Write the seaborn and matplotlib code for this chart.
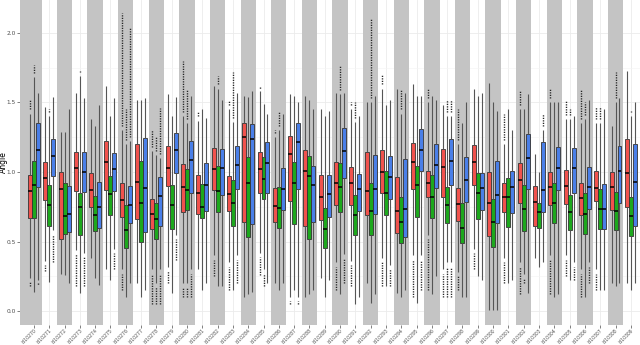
import numpy as np
import pandas as pd
import seaborn as sns
import matplotlib
matplotlib.use("Agg")
import matplotlib.pyplot as plt

nan = np.nan

Speakers = ['id%d' % n for n in range(10270, 10310)]
Groups = ['g1', 'g2', 'g3']
Colors = ['#F0524D', '#1DA81D', '#4A7FE8']

# red group
RedQ1  = [0.67, 0.80, 0.52, 0.86, 0.75, 0.87, 0.68, 0.66, 0.59, 0.90, 0.715, 0.70, 0.87, 0.72, 0.64, 0.85, 0.64, 0.79, 0.61, 0.655,
          0.76, 0.76, 0.69, 0.85, 0.56, 0.88, 0.82, 0.82, 0.65, 0.91, 0.54, 0.71, 0.78, 0.61, 0.76, 0.77, 0.69, 0.79, 0.73, 0.75]
RedMed = [0.86, 0.955, 0.876, 1.03, 0.87, 1.07, 0.80, 0.93, 0.70, 1.03, 0.895, 0.847, 1.02, 0.842, 1.25, 1.02, 0.758, 1.133, 1.008, 0.818,
          0.924, 0.92, 0.866, 1.003, 0.718, 1.07, 0.92, 1.034, 0.77, 1.07, 0.775, 0.823, 0.943, 0.787, 0.89, 0.90, 0.811, 0.883, 0.89, 0.99]
RedQ3  = [0.98, 1.075, 1.0, 1.147, 0.99, 1.22, 0.92, 1.2, 0.804, 1.188, 1.058, 0.98, 1.17, 0.974, 1.356, 1.145, 0.883, 1.26, 1.157, 0.98,
          1.07, 1.034, 1.147, 1.16, 0.962, 1.207, 1.01, 1.164, 0.883, 1.197, 1.003, 0.92, 1.068, 0.9, 1.003, 1.015, 0.924, 1.006, 1.003, 1.236]
RedLo  = [0.24, 0.36, 0.27, 0.44, 0.38, 0.30, 0.30, 0.20, 0.30, 0.32, 0.20, 0.30, 0.40, 0.35, 0.10, 0.42, 0.20, 0.10, 0.10, 0.24,
          0.35, 0.36, 0.20, 0.38, 0.13, 0.40, 0.55, 0.30, 0.28, 0.45, 0.01, 0.38, 0.35, 0.38, 0.40, 0.40, 0.30, 0.30, 0.20, 0.20]
RedHi  = [1.42, 1.47, 1.29, 1.57, 1.38, 1.62, 1.30, 1.52, 1.15, 1.56, 1.40, 1.37, 1.62, 1.45, 1.55, 1.58, 1.25, 1.56, 1.55, 1.45,
          1.57, 1.45, 1.50, 1.60, 1.60, 1.63, 1.50, 1.48, 1.20, 1.60, 1.64, 1.20, 1.45, 1.13, 1.50, 1.38, 1.35, 1.35, 1.33, 1.73]
RedOutHi = [1.52, nan, nan, nan, 1.41, nan, 2.14, nan, 1.30, nan, 1.80, 1.44, nan, 1.52, nan, 1.60, 1.30, nan, nan, 1.48,
            nan, 1.50, nan, 1.70, nan, nan, 1.60, nan, 1.45, nan, nan, 1.42, 1.58, nan, 1.60, 1.52, 1.60, 1.47, nan, nan]
RedOutLo = [0.18, 0.29, nan, 0.18, nan, nan, 0.15, nan, 0.05, 0.20, 0.10, 0.27, 0.25, 0.15, nan, 0.26, nan, 0.05, nan, nan,
            0.15, 0.18, nan, 0.18, nan, 0.10, 0.15, 0.10, 0.15, 0.30, nan, 0.20, 0.12, nan, 0.12, 0.25, 0.10, 0.15, nan, nan]

# green group
GreenQ1  = [0.67, 0.61, 0.552, 0.547, 0.574, 0.69, 0.451, 0.50, 0.516, 0.588, 0.727, 0.672, 0.71, 0.614, 0.535, 0.804, 0.60, 0.629, 0.52, 0.456,
            0.715, 0.547, 0.547, 0.69, 0.49, 0.68, 0.667, 0.636, 0.49, 0.66, 0.458, 0.607, 0.578, 0.595, 0.636, 0.583, 0.554, 0.588, 0.583, 0.54]
GreenMed = [0.91, 0.763, 0.686, 0.75, 0.694, 0.84, 0.583, 0.775, 0.66, 0.763, 0.87, 0.75, 0.866, 0.78, 0.92, 0.948, 0.74, 0.92, 0.972, 0.593,
            0.89, 0.69, 0.722, 0.852, 0.643, 0.907, 0.823, 0.763, 0.595, 0.852, 0.638, 0.823, 0.732, 0.715, 0.78, 0.715, 0.696, 0.732, 0.722, 0.684]
GreenQ3  = [1.08, 0.906, 0.924, 0.852, 0.825, 0.97, 0.763, 1.08, 0.775, 0.907, 1.02, 0.912, 1.04, 0.94, 1.106, 1.106, 0.89, 1.073, 1.116, 0.74,
            1.068, 0.833, 0.924, 1.01, 0.818, 1.044, 0.98, 0.895, 0.78, 0.996, 0.804, 0.955, 0.905, 0.78, 0.924, 0.833, 0.847, 0.876, 0.857, 0.818]
GreenLo  = [0.14, 0.21, 0.26, 0.13, 0.24, 0.22, 0.10, 0.10, 0.20, 0.13, 0.20, 0.15, 0.18, 0.15, 0.12, 0.30, 0.15, 0.15, 0.12, 0.10,
            0.12, 0.05, 0.06, 0.18, 0.10, 0.06, 0.12, 0.35, 0.10, 0.25, 0.01, 0.20, 0.27, 0.32, 0.10, 0.22, 0.10, 0.15, 0.18, 0.15]
GreenHi  = [1.68, 1.40, 1.29, 1.69, 1.33, 1.40, 1.20, 1.52, 1.12, 1.40, 1.35, 1.45, 1.60, 1.36, 1.54, 1.49, 1.30, 1.55, 1.52, 1.40,
            1.56, 1.36, 1.50, 1.48, 1.42, 1.55, 1.55, 1.40, 1.35, 1.55, 1.50, 1.45, 1.45, 1.00, 1.50, 1.38, 1.38, 1.35, 1.50, 1.40]
GreenOutHi = [1.77, 1.45, nan, 1.73, nan, nan, 1.45, nan, 1.26, nan, 1.60, nan, 1.69, 1.72, nan, nan, 1.43, nan, nan, nan,
              1.76, 1.50, 2.10, nan, 1.60, nan, nan, 1.52, nan, nan, nan, nan, nan, nan, nan, 1.45, 1.50, 1.47, 1.72, 1.44]
GreenOutLo = [nan, nan, nan, nan, nan, nan, nan, nan, 0.05, nan, 0.10, nan, nan, nan, nan, 0.18, nan, nan, nan, nan,
              nan, nan, nan, nan, nan, nan, nan, 0.10, nan, nan, nan, nan, 0.20, nan, nan, nan, nan, nan, nan, nan]

# blue group
BlueQ1  = [0.895, 0.97, 0.566, 0.859, 0.598, 0.866, 0.63, 0.571, 0.612, 0.99, 0.852, 0.72, 0.835, 0.876, 0.624, 0.852, 0.727, 0.876, 0.638, 0.68,
           0.955, 0.718, 0.696, 0.804, 0.53, 1.01, 0.883, 0.907, 0.785, 0.727, 0.631, 0.703, 0.876, 0.713, 0.871, 0.847, 0.734, 0.588, 0.78, 0.612]
BlueMed = [1.16, 1.115, 0.696, 1.003, 0.746, 1.02, 0.763, 0.888, 0.83, 1.16, 1.09, 0.91, 1.027, 1.05, 1.236, 1.068, 0.876, 1.214, 0.905, 0.84,
           1.154, 0.876, 0.876, 0.962, 0.734, 1.16, 1.05, 1.082, 0.943, 0.883, 0.835, 0.89, 1.104, 0.871, 1.032, 1.027, 0.895, 0.734, 1.01, 0.93]
BlueQ3  = [1.35, 1.235, 0.90, 1.147, 0.926, 1.14, 0.90, 1.243, 0.962, 1.284, 1.22, 1.063, 1.164, 1.19, 1.344, 1.217, 1.027, 1.353, 1.046, 0.98,
           1.315, 0.986, 1.123, 1.116, 1.092, 1.308, 1.2, 1.24, 1.106, 0.996, 1.082, 1.01, 1.272, 1.214, 1.183, 1.173, 1.039, 0.914, 1.19, 1.2]
BlueLo  = [0.22, 0.58, 0.20, 0.42, 0.19, 0.45, 0.20, 0.15, 0.30, 0.55, 0.30, 0.20, 0.18, 0.40, 0.14, 0.20, 0.20, 0.10, 0.15, 0.22,
           0.41, 0.10, 0.12, 0.33, 0.15, 0.40, 0.25, 0.35, 0.10, 0.22, 0.01, 0.22, 0.13, 0.35, 0.12, 0.35, 0.35, 0.15, 0.20, 0.20]
BlueHi  = [1.57, 1.54, 1.45, 1.53, 1.48, 1.53, 1.22, 1.53, 1.10, 1.54, 1.55, 1.39, 1.52, 1.57, 1.58, 1.42, 1.42, 1.50, 1.45, 1.44,
           1.57, 1.40, 1.55, 1.52, 1.57, 1.55, 1.52, 1.40, 1.50, 1.57, 1.44, 1.30, 1.56, 1.30, 1.50, 1.40, 1.52, 1.45, 1.53, 1.50]
BlueOutHi = [nan, nan, nan, nan, nan, nan, 2.04, nan, 1.46, nan, nan, nan, nan, nan, nan, nan, nan, nan, nan, nan,
             nan, nan, nan, nan, nan, nan, nan, 1.52, nan, nan, nan, nan, nan, 1.42, nan, nan, nan, nan, nan, nan]
BlueOutLo = [0.20, 0.35, nan, 0.18, nan, 0.30, nan, nan, 0.05, 0.37, 0.10, nan, nan, 0.20, nan, nan, nan, 0.05, nan, nan,
             0.20, nan, nan, 0.18, nan, 0.15, nan, 0.10, nan, nan, nan, nan, nan, nan, nan, 0.22, 0.20, nan, nan, nan]

Stats = {
    'g1': (RedLo, RedQ1, RedMed, RedQ3, RedHi, RedOutLo, RedOutHi),
    'g2': (GreenLo, GreenQ1, GreenMed, GreenQ3, GreenHi, GreenOutLo, GreenOutHi),
    'g3': (BlueLo, BlueQ1, BlueMed, BlueQ3, BlueHi, BlueOutLo, BlueOutHi),
}

# five values per box -> quartiles land exactly on q1/median/q3, whiskers on min/max
Rows = []
for gp in Groups:
    Lo, Q1, Med, Q3, Hi = Stats[gp][:5]
    for i, spk in enumerate(Speakers):
        for v in (Lo[i], Q1[i], Med[i], Q3[i], Hi[i]):
            Rows.append((spk, gp, v))
df = pd.DataFrame(Rows, columns=['Speaker', 'Group', 'Angle'])

fig = plt.figure(figsize=(6.4, 3.45), dpi=100)
ax = fig.add_axes([20/640, 20/345, 620/640, 325/345])

Width = 0.78
sns.boxplot(data=df, x='Speaker', y='Angle', hue='Group', order=Speakers, hue_order=Groups,
            palette=Colors, whis=(0, 100), showfliers=False, showcaps=False, width=Width,
            linewidth=0.6, linecolor='#333333', saturation=1, legend=False,
            medianprops={'color': 'black', 'linewidth': 1.1},
            whiskerprops={'color': '#555555', 'linewidth': 0.8}, ax=ax)

# dense outlier columns beyond the whiskers
for k, gp in enumerate(Groups):
    Lo, Q1, Med, Q3, Hi, OutLo, OutHi = Stats[gp]
    off = (k - 1) * Width / 3
    for i in range(len(Speakers)):
        if not np.isnan(OutHi[i]):
            ax.vlines(i + off, Hi[i] + 0.03, OutHi[i], color='#262626', lw=1.0,
                      linestyle=(0, (0.9, 0.9)), zorder=1.5)
        if not np.isnan(OutLo[i]):
            ax.vlines(i + off, OutLo[i], Lo[i] - 0.03, color='#262626', lw=1.0,
                      linestyle=(0, (0.9, 0.9)), zorder=1.5)

xmin, xmax = -0.91, 39.6
# alternating grey background, first band runs to the panel edge
for i in range(0, len(Speakers), 2):
    left = xmin if i == 0 else i - 0.5
    ax.axvspan(left, i + 0.5, color='#C4C4C4', zorder=1, lw=0)

ax.set_xlim(xmin, xmax)
ax.set_ylim(-0.10, 2.237)
ax.set_yticks([0, 0.5, 1.0, 1.5, 2.0])
ax.set_yticklabels(['0.0', '0.5', '1.0', '1.5', '2.0'])
ax.set_yticks([0.25, 0.75, 1.25, 1.75], minor=True)
ax.set_axisbelow(True)
ax.grid(axis='y', which='major', color='#EBEBEB', lw=0.6)
ax.grid(axis='y', which='minor', color='#F4F4F4', lw=0.4)
ax.grid(axis='x', which='major', color='#EBEBEB', lw=0.6)

ax.set_xticks(range(len(Speakers)))
ax.set_xticklabels(Speakers, rotation=45, ha='right', rotation_mode='anchor')
ax.tick_params(axis='x', labelsize=3.3, colors='#4d4d4d', length=2, width=0.5, pad=0.3)
ax.tick_params(axis='y', labelsize=4.2, colors='#4d4d4d', length=2, width=0.5, pad=0.8)
ax.tick_params(axis='y', which='minor', length=0)
ax.set_xlabel('')
ax.set_ylabel('Angle', fontsize=5.5)
ax.yaxis.set_label_coords(-0.0188, 0.5)
for s in ax.spines.values():
    s.set_visible(False)

plt.savefig('out.png', dpi=100)
plt.close()
